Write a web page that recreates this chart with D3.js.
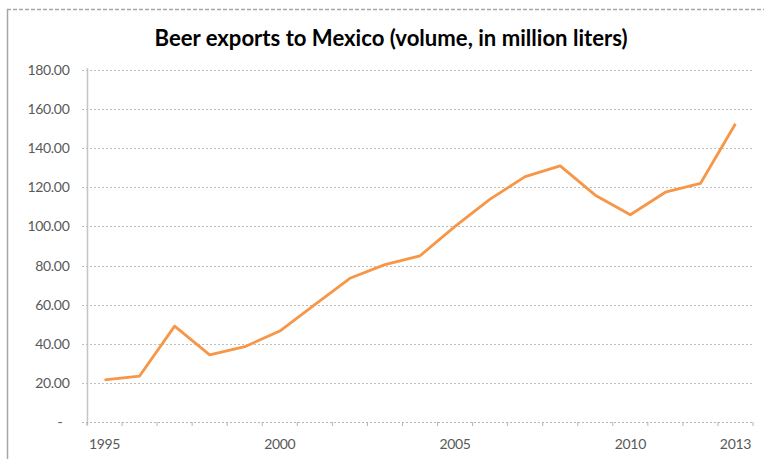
<!DOCTYPE html>
<html><head><meta charset="utf-8">
<script src="https://cdn.jsdelivr.net/npm/d3@7"></script>
<style>body{margin:0;background:#fff}svg{display:block}</style>
</head><body>
<svg id="c" width="764" height="459"></svg>
<script>
const years = [1995,1996,1997,1998,1999,2000,2001,2002,2003,2004,2005,2006,2007,2008,2009,2010,2011,2012,2013];
const volume = [21.5,23.5,49,34.3,38.5,46.5,60,73.5,80.5,85,100,114,125.5,131,116,106,117.5,122,152.5];
const yTicks = [0,20,40,60,80,100,120,140,160,180];
const xLabels = [1995,2000,2005,2010,2013];
const title = "Beer exports to Mexico (volume, in million liters)";

(function(){
const svg = d3.select("#c");
const W = 764, H = 459;
const pL = 87, pR = 753, pT = 70, pB = 422;
const FONT = "Lato, 'Open Sans', sans-serif";

// frame
svg.append("line").attr("x1",7.5).attr("x2",7.5).attr("y1",9).attr("y2",H)
  .attr("stroke","#a6a6a6").attr("stroke-width",1.5);
svg.append("line").attr("x1",7).attr("x2",W).attr("y1",9.5).attr("y2",9.5)
  .attr("stroke","#a6a6a6").attr("stroke-width",1.5).attr("stroke-dasharray","4,2");

const x = d3.scaleBand().domain(years).range([pL,pR]).padding(0);
const y = d3.scaleLinear().domain([0,180]).range([pB,pT]);

// gridlines
svg.append("g").selectAll("line").data(yTicks.filter(d=>d>0)).join("line")
  .attr("x1",pL-5).attr("x2",pR+1)
  .attr("y1",d=>Math.round(y(d))+0.5).attr("y2",d=>Math.round(y(d))+0.5)
  .attr("stroke","#bdbdbd").attr("stroke-width",1)
  .attr("stroke-dasharray","2,2");

// y axis
const yAxis = d3.axisLeft(y).tickValues(yTicks).tickSize(0).tickPadding(18)
  .tickFormat(d => d===0 ? "-" : d3.format(".2f")(d));
const gy = svg.append("g").attr("transform",`translate(${pL+0.5},0)`).call(yAxis);
gy.select(".domain").attr("stroke","#c4c4c4").attr("stroke-width",1.5)
  .attr("d",`M0,${pT-2}V${pB+3}`);
gy.selectAll("text").attr("fill","#595959").style("font-family",FONT).style("font-size","14px").style("letter-spacing","-0.3px");
gy.selectAll(".tick").filter(d=>d===0).select("text").attr("dx",-7);

// x axis
const xAxis = d3.axisBottom(x).tickSize(0).tickPadding(17)
  .tickFormat(d => xLabels.includes(d) ? d : "");
const gx = svg.append("g").attr("transform",`translate(0,${pB+0.5})`).call(xAxis);
gx.select(".domain").attr("stroke","#b5b5b5").attr("stroke-width",1).attr("stroke-dasharray","2,2")
  .attr("d",`M${pL-5},0H${pR+1}`);
gx.selectAll("text").attr("fill","#595959").style("font-family",FONT).style("font-size","14px").style("letter-spacing","-0.3px");
// boundary tick marks
svg.append("g").selectAll("line").data(years.concat([null])).join("line")
  .attr("x1",(d,i)=> i<years.length ? x(d) : pR).attr("x2",(d,i)=> i<years.length ? x(d) : pR)
  .attr("y1",pB).attr("y2",pB+4)
  .attr("stroke","#b5b5b5").attr("stroke-width",1);

// line
const line = d3.line().x((d,i)=>x(years[i])+x.bandwidth()/2).y(d=>y(d));
svg.append("path").datum(volume).attr("d",line)
  .attr("fill","none").attr("stroke","#f79646").attr("stroke-width",2.8)
  .attr("stroke-linejoin","round");

// title
const t = svg.append("text").attr("x",391).attr("y",46).attr("text-anchor","middle")
  .style("font-family",FONT).style("font-weight","bold")
  .style("font-size","18px").attr("fill","#000").text(title);
const tw = t.node().getComputedTextLength();
t.style("font-size",(18*473/tw).toFixed(2)+"px");
})();
</script>
</body></html>
